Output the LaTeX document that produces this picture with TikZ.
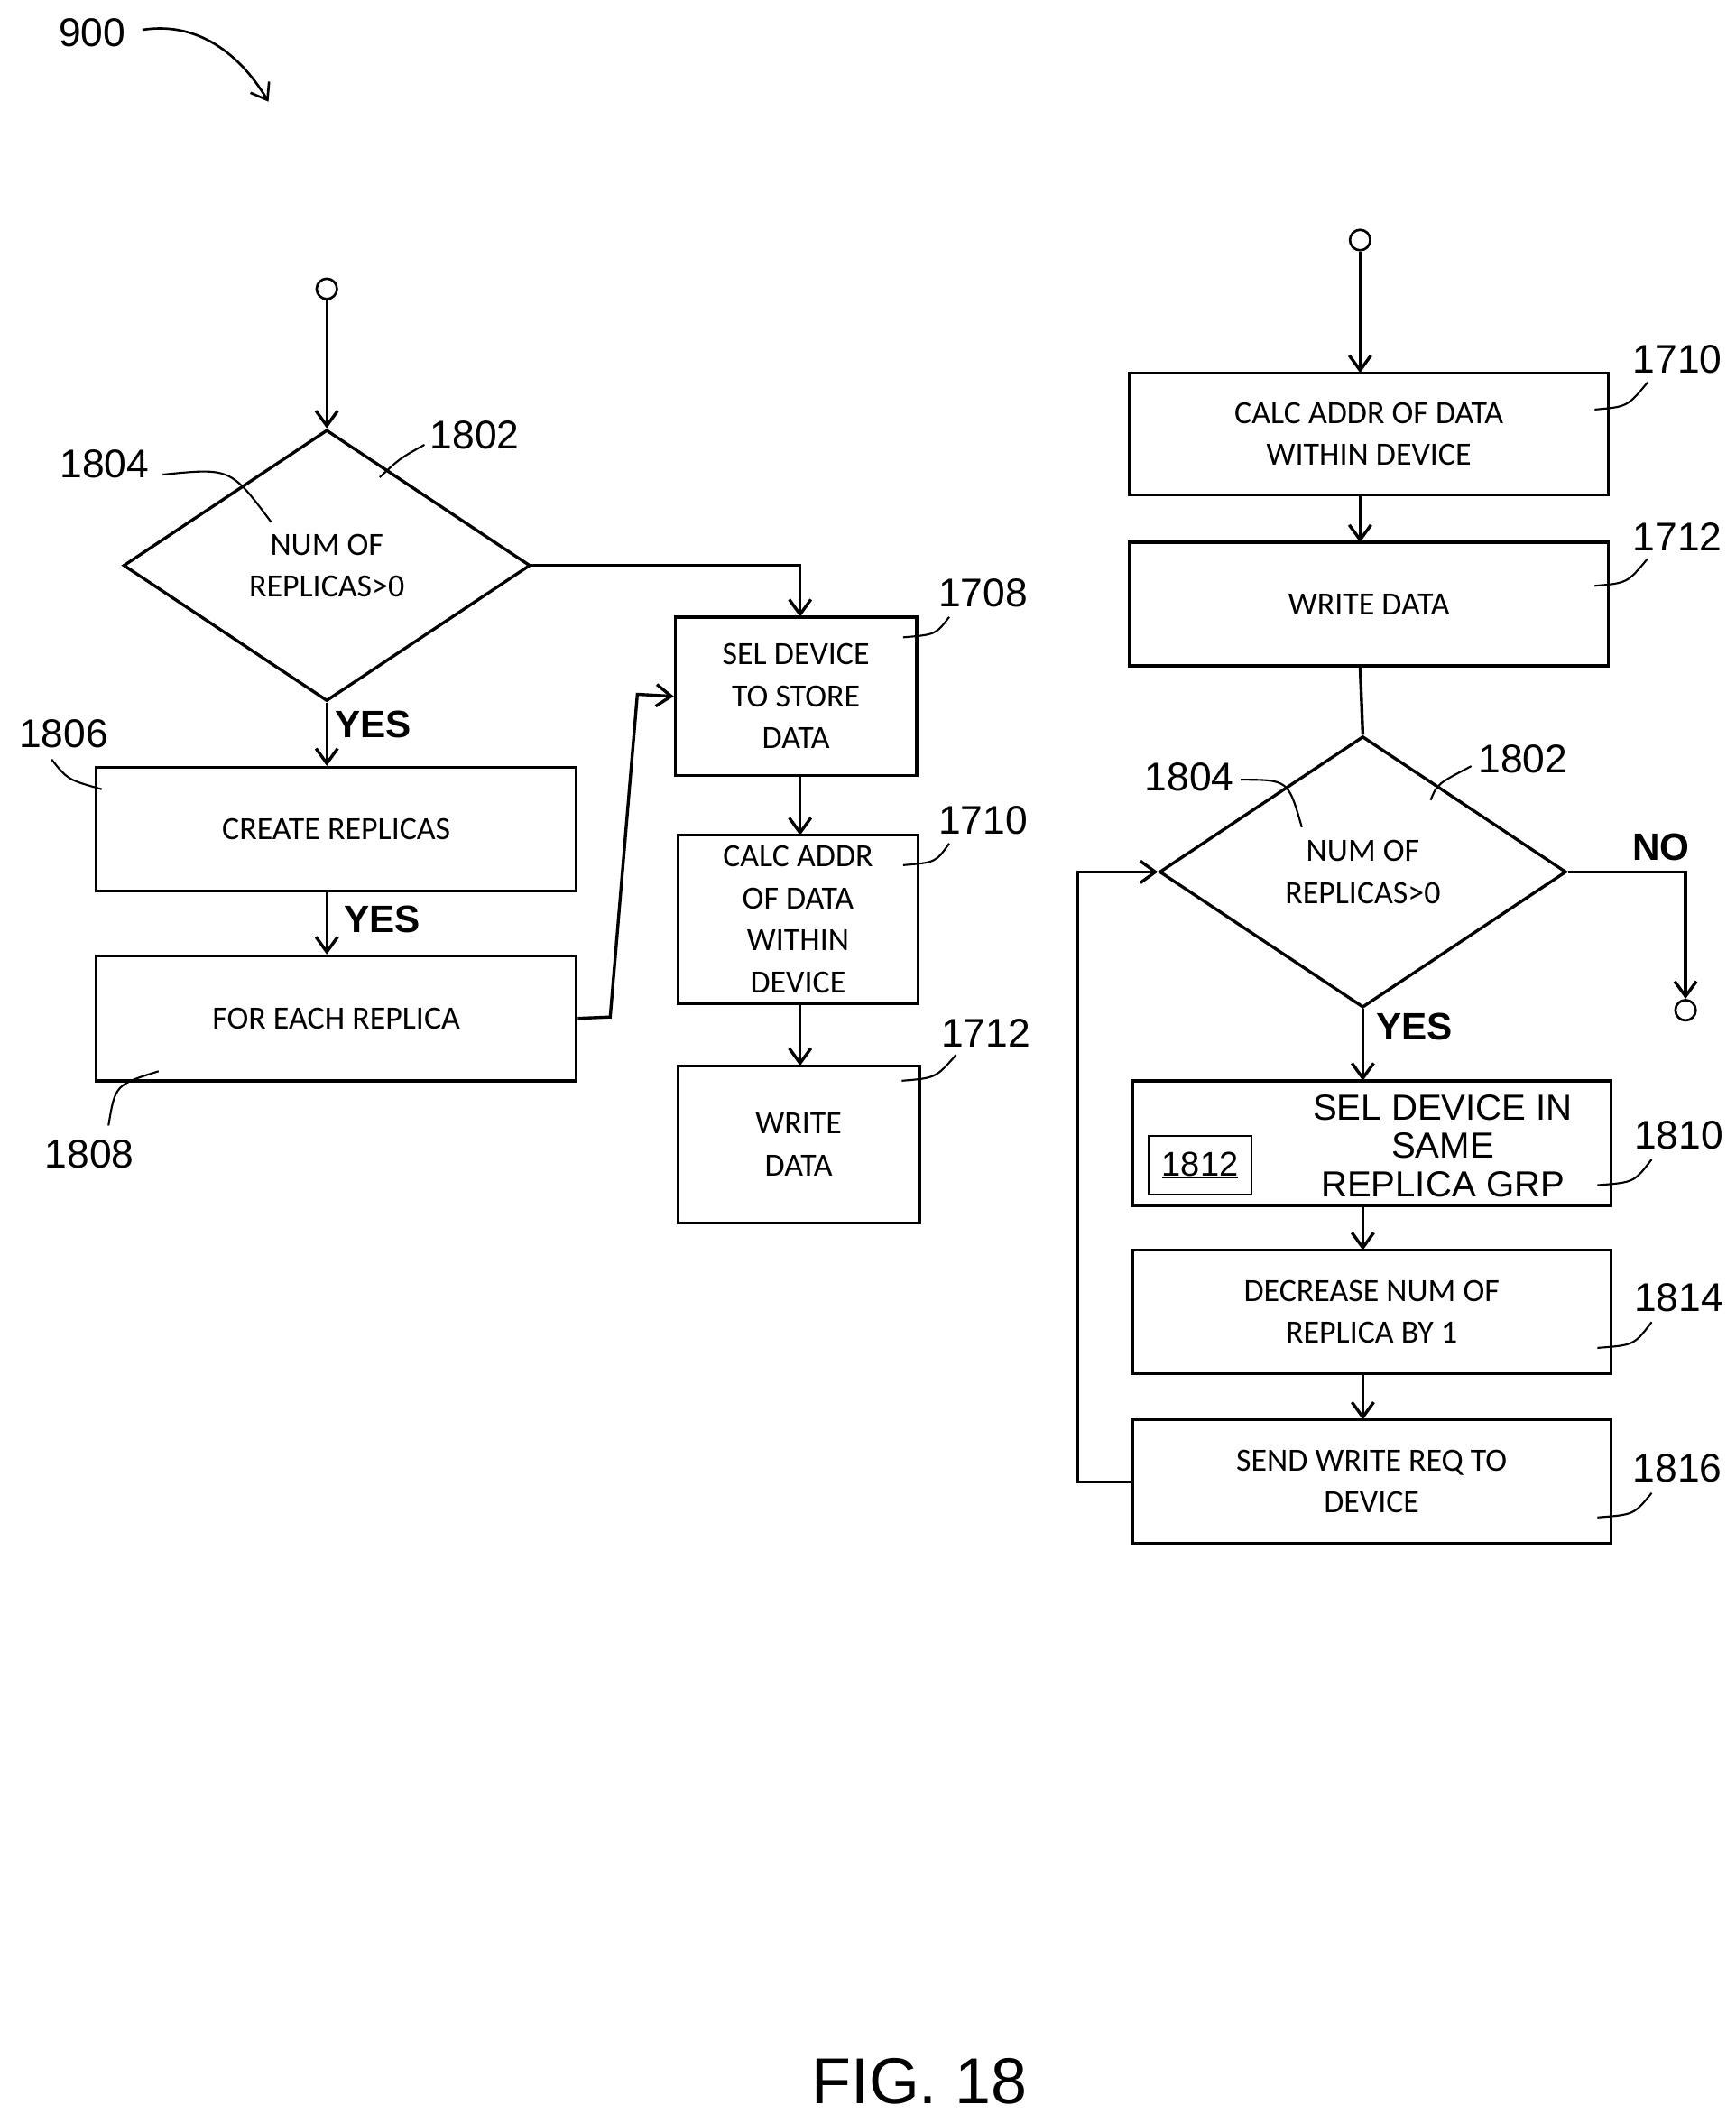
\documentclass[tikz,border=0pt]{standalone}
\usepackage{fontspec}
\setmainfont{Carlito}
\newfontfamily\lab{Liberation Sans}
\usetikzlibrary{shapes.geometric,arrows.meta}
\begin{document}
\begin{tikzpicture}[x=0.05cm,y=-0.05cm,line width=3.2pt,
 box/.style={draw,rectangle,align=center,font=\fontsize{34}{44}\selectfont,inner sep=0pt},
 dia/.style={draw,diamond,minimum width=15cm,minimum height=10cm,inner sep=0pt,align=center,font=\fontsize{34}{44}\selectfont},
 lab/.style={font=\lab\fontsize{42}{46}\selectfont},
 lead/.style={line width=2pt},
 arr/.style={-{Straight Barb[length=0.55cm,width=0.8cm]}},
 term/.style={draw,circle,minimum size=0.75cm,inner sep=0pt,line width=2.5pt}]
\useasboundingbox (0,0) rectangle (1280,1559);
% 900
\node[lab] (n900) at (68,24) {900};
\draw[arr,lead,line width=2.5pt] (105,22) .. controls (150,15) and (180,45) .. (198,75);
% left flow
\node[term] (s1) at (241,213) {};
\node[dia] (d1) at (241,417) {NUM OF\\REPLICAS>0};
\draw[arr] (s1) -- (d1.north);
\node[lab] (l1802) at (350,321) {1802};
\draw[lead] (280,352) .. controls (295,338) .. (313,328);
\node[lab] (l1804) at (77,342) {1804};
\draw[lead] (120,350) .. controls (170,345) .. (200,385);
\node[box,minimum width=17.7cm,minimum height=4.55cm] (b1806) at (248,611.5) {CREATE REPLICAS};
\node[box,minimum width=17.7cm,minimum height=4.6cm] (b1808) at (248,751) {FOR EACH REPLICA};
\node[box,minimum width=8.9cm,minimum height=5.85cm] (b1708) at (587,513.5) {SEL DEVICE\\TO STORE\\DATA};
\node[box,minimum width=8.85cm,minimum height=6.2cm] (b1710l) at (588.5,678) {CALC ADDR\\OF DATA\\WITHIN\\DEVICE};
\node[box,minimum width=8.9cm,minimum height=5.8cm] (b1712l) at (589,844) {WRITE\\DATA};
\draw[arr] (d1.south) -- (d1.south |- b1806.north);
\node[lab,font=\lab\bfseries\fontsize{40}{44}\selectfont] (y1) at (275,534) {YES};
\draw[arr] (d1.south |- b1806.south) -- (d1.south |- b1808.north);
\node[lab,font=\lab\bfseries\fontsize{40}{44}\selectfont] (y2) at (282,678) {YES};
\draw[arr] (d1.east) -| (590,455);
\draw[arr] (b1808.east) -- (450,750) -- (470,512) -- (b1708.west);
\draw[arr] (590,572) -- (590,616);
\draw[arr] (590,740) -- (590,786);
\node[lab] (l1806) at (47,541) {1806};
\draw[lead] (38,560) .. controls (50,575) .. (75,582);
\node[lab] (l1808) at (66,851) {1808};
\draw[lead] (80,830) .. controls (85,800) .. (117,790);
\node[lab] (l1708) at (725,437) {1708};
\draw[lead] (666,470) .. controls (690,468) .. (700,455);
\node[lab] (l1710a) at (725,605) {1710};
\draw[lead] (666,638) .. controls (690,636) .. (700,622);
\node[lab] (l1712a) at (727,762) {1712};
\draw[lead] (665,797) .. controls (690,795) .. (705,778);
% right flow
\node[term] (s2) at (1003,177) {};
\node[box,minimum width=17.65cm,minimum height=4.5cm] (b1710r) at (1009.5,320) {CALC ADDR OF DATA\\WITHIN DEVICE};
\node[box,minimum width=17.65cm,minimum height=4.55cm] (b1712r) at (1009.5,445.5) {WRITE DATA};
\node[dia] (d2) at (1005,643) {NUM OF\\REPLICAS>0};
\node[box,minimum width=17.65cm,minimum height=4.6cm] (b1810) at (1011.5,843) {};
\node[font=\lab\fontsize{38}{40}\selectfont,align=center] (t1810) at (1064,845) {SEL DEVICE IN\\SAME\\REPLICA GRP};
\node[draw,line width=2pt,minimum width=3.8cm,minimum height=2.15cm,font=\lab\fontsize{36}{40}\selectfont] (b1812) at (885,859.5) {\underline{1812}};
\node[box,minimum width=17.65cm,minimum height=4.55cm] (b1814) at (1011.5,967.5) {DECREASE NUM OF\\REPLICA BY 1};
\node[box,minimum width=17.65cm,minimum height=4.55cm] (b1816) at (1011.5,1092.5) {SEND WRITE REQ TO\\DEVICE};
\draw[arr] (s2) -- (1003,275);
\draw[arr] (1003,365) -- (1003,400);
\draw (1003,491) -- (d2.north);
\draw[arr] (d2.south) -- (1005,797);
\node[lab,font=\lab\bfseries\fontsize{40}{44}\selectfont] (y3) at (1043,757) {YES};
\draw[arr] (1005,889) -- (1005,922);
\draw[arr] (1005,1013) -- (1005,1047);
\node[term] (e2) at (1243,745) {};
\draw[arr] (d2.east) -- (1243,643) -- (e2.north);
\node[lab,font=\lab\bfseries\fontsize{40}{44}\selectfont] (no) at (1225,625) {NO};
\draw[arr] (b1816.west |- 0,1093) -- (795,1093) -- (795,643) -- (d2.west);
\node[lab] (l1710b) at (1237,265) {1710};
\draw[lead] (1176,302) .. controls (1200,300) .. (1215,282);
\node[lab] (l1712b) at (1237,396) {1712};
\draw[lead] (1176,432) .. controls (1200,430) .. (1215,412);
\node[lab] (l1802b) at (1123,560) {1802};
\draw[lead] (1055,590) .. controls (1060,578) .. (1085,565);
\node[lab] (l1804b) at (877,573) {1804};
\draw[lead] (915,575) .. controls (950,575) .. (960,610);
\node[lab] (l1810) at (1238,837) {1810};
\draw[lead] (1178,874) .. controls (1205,872) .. (1218,855);
\node[lab] (l1814) at (1238,957) {1814};
\draw[lead] (1178,994) .. controls (1205,992) .. (1218,975);
\node[lab] (l1816) at (1237,1083) {1816};
\draw[lead] (1178,1119) .. controls (1205,1117) .. (1218,1101);
\node[lab,font=\lab\fontsize{68}{72}\selectfont] (fig) at (678,1535) {FIG. 18};
\end{tikzpicture}
\end{document}
